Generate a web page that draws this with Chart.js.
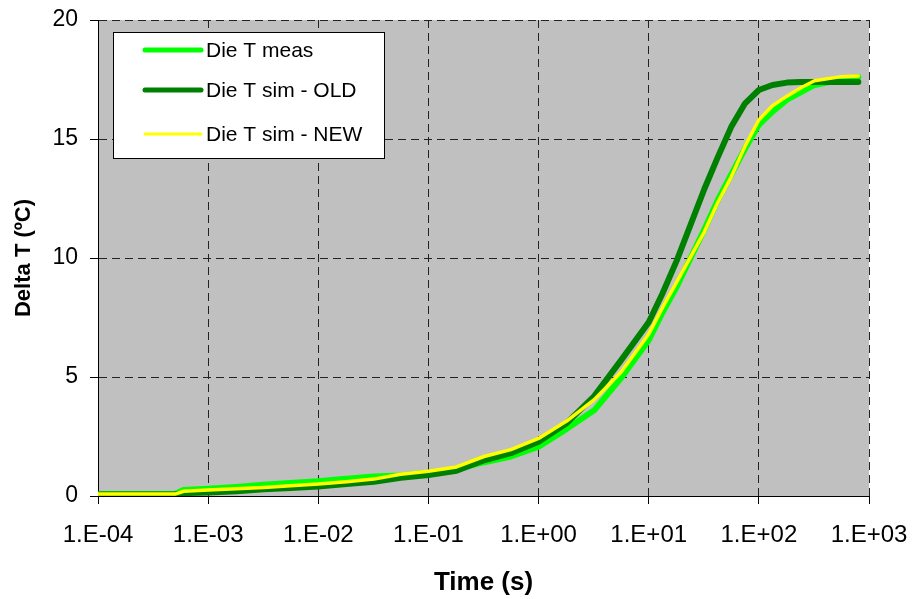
<!DOCTYPE html>
<html>
<head>
<meta charset="utf-8">
<script src="https://cdn.jsdelivr.net/npm/chart.js@4.4.1/dist/chart.umd.min.js"></script>
<style>
  html, body { margin: 0; padding: 0; background: #ffffff; }
  #wrap { width: 916px; height: 599px; position: relative; }
</style>
</head>
<body>
<div id="wrap"><canvas id="c" width="916" height="599"></canvas></div>
<script>
// ---- data ----
const timeS = [1e-4, 3e-4, 5e-4, 6e-4, 1e-3, 1.8e-3, 3.2e-3, 5.6e-3, 1e-2, 1.8e-2, 3.2e-2, 5.6e-2,
               0.1, 0.18, 0.32, 0.56, 1, 1.8, 3.2, 5.6, 10, 13.3, 18, 32, 42, 56, 75, 100, 133,
               180, 237, 320, 560, 800];
const dieTMeas  = [0.08, 0.08, 0.08, 0.25, 0.30, 0.38, 0.47, 0.55, 0.62, 0.72, 0.82, 0.86,
                   0.98, 1.13, 1.42, 1.66, 2.07, 2.82, 3.60, 4.95, 6.55, 7.70, 8.80, 11.2, 12.4,
                   13.5, 14.6, 15.6, 16.15, 16.65, 16.95, 17.27, 17.50, 17.60];
const dieTSimOld = [0.06, 0.06, 0.06, 0.12, 0.15, 0.20, 0.28, 0.34, 0.40, 0.50, 0.60, 0.77,
                    0.88, 1.06, 1.50, 1.80, 2.28, 3.06, 4.20, 5.70, 7.30, 8.50, 9.90, 12.9, 14.2,
                    15.5, 16.5, 17.06, 17.27, 17.37, 17.40, 17.40, 17.40, 17.40];
const dieTSimNew = [0.08, 0.08, 0.08, 0.20, 0.25, 0.30, 0.36, 0.43, 0.50, 0.60, 0.71, 0.91,
                    1.04, 1.22, 1.66, 1.95, 2.42, 3.15, 4.05, 5.20, 6.80, 7.90, 9.00, 11.1, 12.3,
                    13.4, 14.7, 15.8, 16.4, 16.8, 17.13, 17.45, 17.62, 17.65];
const seriesLabels = ['Die T meas', 'Die T sim - OLD', 'Die T sim - NEW'];
const xTickValues = [1e-4, 1e-3, 1e-2, 1e-1, 1e0, 1e1, 1e2, 1e3];
const yTickValues = [0, 5, 10, 15, 20];
const xTitle = 'Time (s)';
const yTitle = 'Delta T (\u00BAC)';

const FONT = "'Liberation Sans', Arial, sans-serif";

function pts(ys) { return timeS.map((t, i) => ({ x: t, y: ys[i] })); }
function fmtExp(v) {
  const e = Math.round(Math.log10(v));
  const s = e < 0 ? '-' : '+';
  const a = Math.abs(e);
  return '1.E' + s + (a < 10 ? '0' : '') + a;
}

const plotBg = {
  id: 'plotBg',
  beforeDraw(chart) {
    const { ctx, chartArea: a } = chart;
    ctx.save();
    ctx.fillStyle = '#C0C0C0';
    ctx.fillRect(a.left, a.top, a.right - a.left, a.bottom - a.top);
    ctx.restore();
  }
};

const boxLegend = {
  id: 'boxLegend',
  afterDraw(chart) {
    const { ctx, chartArea: a } = chart;
    const x0 = a.left + 15, y0 = a.top + 12, w = 271, h = 126;
    ctx.save();
    ctx.fillStyle = '#ffffff';
    ctx.fillRect(x0, y0, w, h);
    ctx.strokeStyle = '#000000';
    ctx.lineWidth = 1;
    ctx.strokeRect(x0 + 0.5, y0 + 0.5, w, h);
    const rows = [18, 58, 102];
    const ds = chart.data.datasets;
    const widths = [5, 5, 3];
    ctx.font = '21px ' + FONT;
    ctx.textBaseline = 'middle';
    ctx.textAlign = 'left';
    for (let i = 0; i < 3; i++) {
      const y = y0 + rows[i];
      ctx.beginPath();
      ctx.lineCap = 'round';
      ctx.strokeStyle = ds[i].borderColor;
      ctx.lineWidth = widths[i];
      ctx.moveTo(x0 + 32, y);
      ctx.lineTo(x0 + 88, y);
      ctx.stroke();
      ctx.fillStyle = '#000000';
      ctx.fillText(ds[i].label, x0 + 93, y + 1);
    }
    ctx.restore();
  }
};

new Chart(document.getElementById('c'), {
  type: 'line',
  data: {
    datasets: [
      { label: seriesLabels[0], data: pts(dieTMeas), borderColor: '#00FF00', borderWidth: 6, order: 3 },
      { label: seriesLabels[1], data: pts(dieTSimOld), borderColor: '#008000', borderWidth: 6, order: 2 },
      { label: seriesLabels[2], data: pts(dieTSimNew), borderColor: '#FFFF00', borderWidth: 3.5, order: 1 }
    ]
  },
  options: {
    responsive: false,
    animation: false,
    devicePixelRatio: 1,
    layout: { padding: { left: 0, right: 47, top: 20, bottom: 0 } },
    elements: {
      point: { radius: 0, borderWidth: 0, hoverRadius: 0 },
      line: { tension: 0, fill: false, borderJoinStyle: 'round', borderCapStyle: 'round' }
    },
    plugins: { legend: { display: false }, tooltip: { enabled: false } },
    scales: {
      x: {
        type: 'logarithmic',
        min: 1e-4, max: 1e3,
        afterBuildTicks(axis) { axis.ticks = xTickValues.map(v => ({ value: v })); },
        afterFit(axis) { axis.height = 103; axis.paddingLeft = 0; axis.paddingRight = 0; },
        ticks: {
          color: '#000', font: { family: FONT, size: 24 }, padding: 17,
          maxRotation: 0, autoSkip: false,
          callback: (v) => fmtExp(v)
        },
        grid: {
          color: '#222', lineWidth: 1,
          drawTicks: true, tickLength: 8, tickColor: '#000', tickBorderDash: [], tickWidth: 1
        },
        border: { display: true, color: '#000', width: 1, dash: [8, 5] },
        title: { display: true, text: xTitle, color: '#000',
                 font: { family: FONT, size: 26, weight: 'bold' }, padding: { top: 0, bottom: 1 } }
      },
      y: {
        type: 'linear',
        min: 0, max: 20,
        afterBuildTicks(axis) { axis.ticks = yTickValues.map(v => ({ value: v })); },
        afterFit(axis) { axis.width = 98; axis.paddingTop = 0; axis.paddingBottom = 0; },
        ticks: { color: '#000', font: { family: FONT, size: 23 }, padding: 12 },
        grid: {
          color: '#222', lineWidth: 1,
          drawTicks: true, tickLength: 8, tickColor: '#000', tickBorderDash: [], tickWidth: 1
        },
        border: { display: true, color: '#000', width: 1, dash: [8, 5] },
        title: { display: true, text: yTitle, color: '#000',
                 font: { family: FONT, size: 22, weight: 'bold' }, padding: { top: 11, bottom: 0 } }
      }
    }
  },
  plugins: [plotBg, boxLegend]
});
</script>
</body>
</html>
